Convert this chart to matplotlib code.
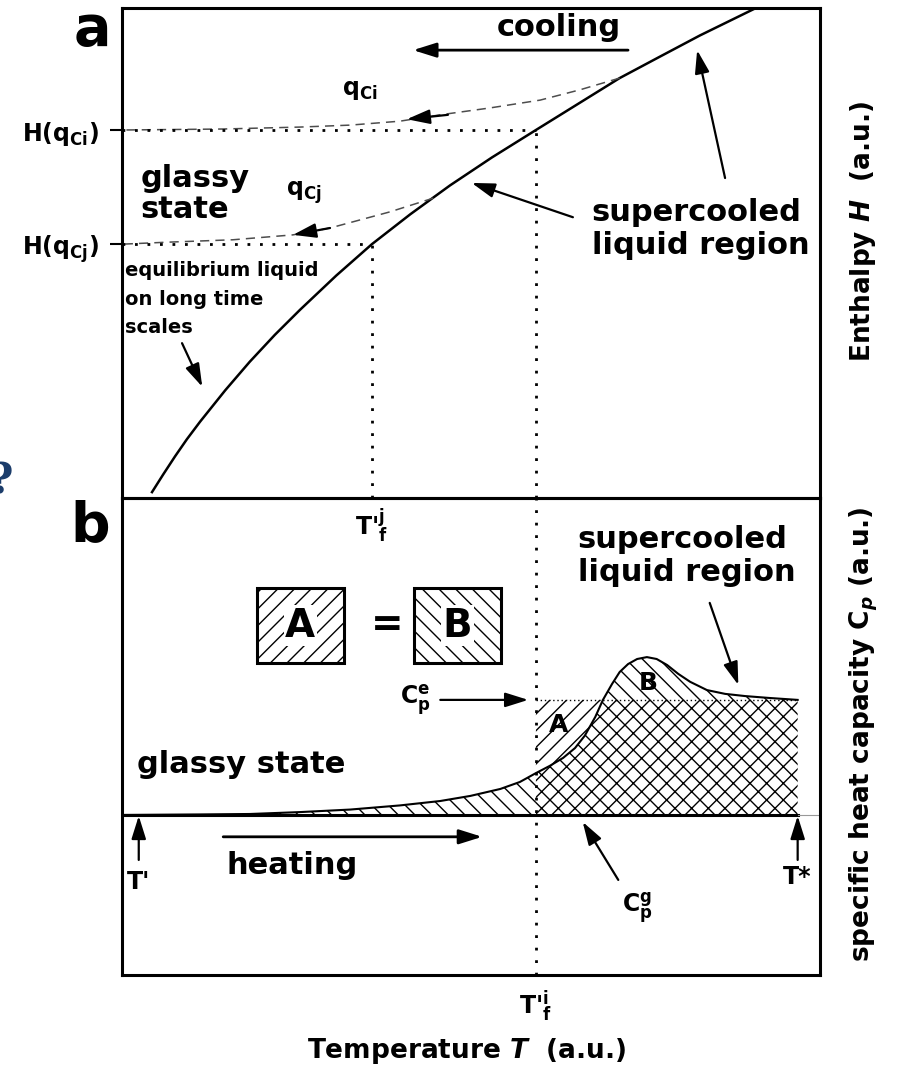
import numpy as np
import matplotlib
matplotlib.use('Agg')
import matplotlib.pyplot as plt
from matplotlib.patches import Rectangle

plt.rcParams['font.family'] = ['DejaVu Sans']
plt.rcParams['font.weight'] = 'bold'
plt.rcParams['axes.labelweight'] = 'bold'
plt.rcParams['mathtext.fontset'] = 'custom'
plt.rcParams['mathtext.rm'] = 'DejaVu Sans:bold'
plt.rcParams['mathtext.bf'] = 'DejaVu Sans:bold'
plt.rcParams['mathtext.it'] = 'DejaVu Sans:italic:bold'
plt.rcParams['mathtext.default'] = 'regular'
plt.rcParams['hatch.linewidth'] = 1.0

# panel a: enthalpy of the liquid, and two glass branches (T, H in a.u.)
T_eq = [0.43, 0.59, 0.76, 0.93, 1.12, 1.48, 1.83, 2.19, 2.55, 3.07, 3.58, 4.13, 4.70,
        5.30, 5.93, 6.53, 7.13, 7.71, 8.28, 8.71, 9.14]
H_eq = [0.12, 0.48, 0.85, 1.20, 1.56, 2.20, 2.78, 3.33, 3.84, 4.54, 5.18, 5.79, 6.38,
        6.95, 7.51, 8.04, 8.57, 9.01, 9.44, 9.74, 10.04]

T_qci = [7.13, 6.56, 5.99, 5.27, 4.56, 3.98, 3.27, 2.55, 1.43, 0.0]
H_qci = [8.57, 8.33, 8.12, 7.96, 7.82, 7.69, 7.61, 7.57, 7.53, 7.51]

T_qcj = [4.46, 3.84, 2.98, 2.45, 1.59, 0.64, 0.0]
H_qcj = [6.12, 5.84, 5.51, 5.37, 5.27, 5.22, 5.18]

H_ci = 7.51
H_cj = 5.18
Tf_i = 5.93
Tf_j = 3.58

# panel b: heat capacity on heating
T_cp = [0.0, 1.12, 1.83, 2.55, 3.27, 3.98, 4.56, 4.99, 5.42, 5.70, 5.93, 6.13, 6.32,
        6.49, 6.63, 6.78, 6.89, 7.02, 7.13, 7.25, 7.38, 7.52, 7.66, 7.81, 7.97, 8.14,
        8.38, 8.64, 8.93, 9.28, 9.68]
Cp = [0.0, 0.016, 0.03, 0.09, 0.17, 0.30, 0.44, 0.60, 0.82, 1.04, 1.32, 1.55, 1.80,
      2.11, 2.50, 3.09, 3.63, 4.13, 4.51, 4.76, 4.92, 4.98, 4.92, 4.73, 4.45, 4.20,
      3.94, 3.82, 3.75, 3.69, 3.63]
Cp_e = 3.63
T_prime = 0.24
T_star = 9.68

tick_a = ['H(q$_{Ci}$)', 'H(q$_{Cj}$)']
tick_a_x = ["T'$_f^j$"]
tick_b_x = ["T'$_f^i$"]

DOT = (0, (1, 3.5))
BIG = 22
MID = 17

T_cp = np.array(T_cp)
Cp = np.array(Cp)

fig = plt.figure(figsize=(8.97, 10.67), dpi=100)
ax_b = fig.add_axes([122 / 897, 1 - 975 / 1067, 698 / 897, 477 / 1067])
ax_a = fig.add_axes([122 / 897, 1 - 498 / 1067, 698 / 897, 490 / 1067])
ax_b.set_facecolor('none')
ax_a.set_facecolor('none')


def arrow(ax, tail, head, lw=1.6):
    ax.annotate('', xy=head, xytext=tail,
                arrowprops=dict(arrowstyle='-|>,head_length=0.7,head_width=0.22',
                                color='black', lw=lw, mutation_scale=20,
                                shrinkA=0, shrinkB=0))


# ---------------- panel a ----------------
ax_a.plot(T_eq, H_eq, color='black', lw=1.8)
ax_a.plot(T_qci, H_qci, color='0.3', lw=1.1, ls=(0, (6, 4)))
ax_a.plot(T_qcj, H_qcj, color='0.3', lw=1.1, ls=(0, (6, 4)))
ax_a.plot([0, Tf_i], [H_ci, H_ci], color='black', lw=2, ls=DOT)
ax_a.plot([Tf_i, Tf_i], [0, H_ci], color='black', lw=2, ls=DOT)
ax_a.plot([0, Tf_j], [H_cj, H_cj], color='black', lw=2, ls=DOT)
ax_a.plot([Tf_j, Tf_j], [0, H_cj], color='black', lw=2, ls=DOT)

ax_a.set_xlim(0, 10)
ax_a.set_ylim(0, 10)
ax_a.set_yticks([H_ci, H_cj], labels=tick_a)
ax_a.tick_params(axis='y', direction='out', length=8.6, width=1.5, pad=8, labelsize=MID)
ax_a.set_xticks([Tf_j], labels=tick_a_x)
ax_a.tick_params(axis='x', length=0, pad=6, labelsize=MID)

ax_a.text(6.26, 9.6, 'cooling', fontsize=BIG, ha='center', va='center')
arrow(ax_a, (7.25, 9.14), (4.17, 9.14), lw=2)
ax_a.text(3.41, 8.33, 'q$_{Ci}$', fontsize=MID, ha='center', va='center')
arrow(ax_a, (4.67, 7.82), (4.08, 7.73))
ax_a.text(2.61, 6.24, 'q$_{Cj}$', fontsize=MID, ha='center', va='center')
arrow(ax_a, (2.98, 5.51), (2.45, 5.37))
ax_a.text(0.26, 6.2, 'glassy\nstate', fontsize=BIG, ha='left', va='center', linespacing=1.1)
ax_a.text(6.73, 5.49, 'supercooled\nliquid region', fontsize=BIG, ha='left', va='center',
          linespacing=1.15)
arrow(ax_a, (6.46, 5.73), (5.01, 6.43))
arrow(ax_a, (8.64, 6.53), (8.24, 9.14))
ax_a.text(0.04, 4.06, 'equilibrium liquid\non long time\nscales', fontsize=14,
          ha='left', va='center', linespacing=1.65)
arrow(ax_a, (0.86, 3.16), (1.15, 2.27))

ax_a.yaxis.set_label_position('right')
ax_a.set_ylabel(r'Enthalpy $\mathit{H}$  (a.u.)', fontsize=19)
ax_a.yaxis.set_label_coords(1.040, 0.543)

# ---------------- panel b ----------------
ax_b.fill_between(T_cp, 0, Cp, where=T_cp <= Tf_i, facecolor='none', edgecolor='black',
                  hatch='\\\\', lw=0)
ax_b.fill_between(T_cp, 0, np.minimum(Cp, Cp_e), where=T_cp >= Tf_i, facecolor='none',
                  edgecolor='black', hatch='xx', lw=0)
ax_b.fill_between(T_cp, Cp, Cp_e, where=(T_cp >= Tf_i) & (Cp <= Cp_e), interpolate=True,
                  facecolor='none', edgecolor='black', hatch='//', lw=0)
ax_b.fill_between(T_cp, Cp_e, Cp, where=(T_cp >= Tf_i) & (Cp >= Cp_e), interpolate=True,
                  facecolor='none', edgecolor='black', hatch='\\\\', lw=0)
ax_b.plot(T_cp, Cp, color='black', lw=1.5)
ax_b.plot([Tf_i, T_star], [Cp_e, Cp_e], color='black', lw=1.0, ls=(0, (1, 2)))
ax_b.plot([0, T_star], [0, 0], color='black', lw=2.2)
ax_b.plot([T_star, 10], [0, 0], color='0.6', lw=0.8)
ax_b.axvline(Tf_i, color='black', lw=2, ls=DOT)

ax_b.set_xlim(0, 10)
ax_b.set_ylim(-5.05, 10)
ax_b.set_yticks([])
ax_b.set_xticks([Tf_i], labels=tick_b_x)
ax_b.tick_params(axis='x', length=0, pad=10, labelsize=MID)

ax_b.text(6.53, 8.17, 'supercooled\nliquid region', fontsize=BIG, ha='left', va='center',
          linespacing=1.15)
arrow(ax_b, (8.42, 6.69), (8.83, 4.10))

# A = B legend boxes
box_w, box_h = 1.25, 2.37
for x0, hatch, lab in [(1.93, '//', 'A'), (4.18, '\\\\', 'B')]:
    ax_b.add_patch(Rectangle((x0, 4.79), box_w, box_h, facecolor='none', edgecolor='black',
                             hatch=hatch, lw=2.2))
    ax_b.text(x0 + box_w / 2, 4.79 + box_h / 2, lab, fontsize=28, ha='center', va='center',
              bbox=dict(facecolor='white', edgecolor='none', pad=1))
ax_b.text(3.80, 5.98, '=', fontsize=28, ha='center', va='center')

ax_b.text(4.20, Cp_e, 'C$_p^e$', fontsize=MID, ha='center', va='center')
arrow(ax_b, (4.56, Cp_e), (5.82, Cp_e))
ax_b.text(6.25, 2.84, 'A', fontsize=18, ha='center', va='center')
ax_b.text(7.54, 4.16, 'B', fontsize=18, ha='center', va='center')
ax_b.text(0.21, 1.32, 'glassy state', fontsize=BIG, ha='left', va='baseline')

arrow(ax_b, (1.45, -0.69), (5.16, -0.69), lw=2)
ax_b.text(1.50, -1.86, 'heating', fontsize=BIG, ha='left', va='baseline')
arrow(ax_b, (T_prime, -1.42), (T_prime, -0.03))
ax_b.text(T_prime, -1.75, "T'", fontsize=MID, ha='center', va='top')
arrow(ax_b, (T_star, -1.42), (T_star, -0.03))
ax_b.text(T_star, -1.58, 'T*', fontsize=MID, ha='center', va='top')
arrow(ax_b, (7.11, -2.05), (6.60, -0.22))
ax_b.text(7.38, -2.93, 'C$_p^g$', fontsize=MID, ha='center', va='center')

ax_b.yaxis.set_label_position('right')
ax_b.set_ylabel(r'specific heat capacity C$_{\mathit{p}}$ (a.u.)', fontsize=19)
ax_b.yaxis.set_label_coords(1.040, 0.505)
ax_b.set_xlabel(r'Temperature $\mathit{T}$  (a.u.)', fontsize=19)
ax_b.xaxis.set_label_coords(0.494, -0.128)

for ax in (ax_a, ax_b):
    for s in ax.spines.values():
        s.set_linewidth(2.2)

fig.text(92 / 897, 1 - 30 / 1067, 'a', fontsize=40, ha='center', va='center')
fig.text(90 / 897, 1 - 526 / 1067, 'b', fontsize=40, ha='center', va='center')
fig.text(13 / 897, 1 - 481 / 1067, '?', fontsize=30, color='#1c3d6b', family='DejaVu Serif',
         ha='right', va='center')

fig.savefig('out.png', dpi=100)
